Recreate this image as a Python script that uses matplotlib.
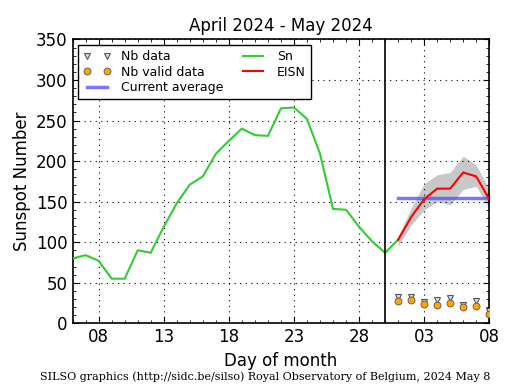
import matplotlib
matplotlib.use('Agg')
import matplotlib.pyplot as plt
import numpy as np

# days counted from 0 April (so 31 = 1 May)
sn_days = list(range(6, 32))
sn_vals = [80, 84, 77, 55, 55, 90, 87, 119, 148, 171, 181, 209, 225, 240, 232, 231,
           265, 266, 252, 209, 141, 140, 119, 101, 87, 103]

eisn_days = list(range(31, 39))
eisn_vals = [103, 131, 153, 166, 166, 186, 181, 153]
eisn_hi = [107, 142, 172, 183, 186, 206, 195, 165]
eisn_lo = [95, 121, 140, 150, 146, 165, 169, 142]
nb_data = [32, 32, 26, 29, 31, 23, 27, 15]
nb_valid = [27, 29, 24, 23, 25, 20, 21.5, 12]
current_avg = 155

tick_pos = [8, 13, 18, 23, 28, 33, 38]
tick_lbl = ['08', '13', '18', '23', '28', '03', '08']

fig = plt.figure(figsize=(5.15, 3.9), dpi=100)
ax = fig.add_axes([0.141, 0.171, 0.809, 0.728])

ax.fill_between(eisn_days, eisn_lo, eisn_hi, color='#c8c8c8', lw=0, zorder=1)
ax.plot(sn_days, sn_vals, color='#33cc33', lw=1.5, label='Sn', zorder=3)
ax.plot(eisn_days, eisn_vals, color='red', lw=1.5, label='EISN', zorder=4)
ax.plot([eisn_days[0], eisn_days[-1]], [current_avg, current_avg], color='#5555ff',
        lw=2.5, alpha=0.8, label='Current average', zorder=2)
ax.plot(eisn_days, nb_data, 'v', ms=4.5, mfc='#dddddd', mec='#555555', mew=0.8,
        ls='none', label='Nb data', zorder=5)
ax.plot(eisn_days, nb_valid, 'o', ms=5, mfc='orange', mec='#555555', mew=0.6,
        ls='none', label='Nb valid data', zorder=6)
ax.axvline(30, color='black', lw=1.2, zorder=7)

ax.set_xlim(6, 38)
ax.set_ylim(0, 350)
ax.set_xticks(tick_pos)
ax.set_xticklabels(tick_lbl)
ax.set_xticks(np.arange(6, 39, 1), minor=True)
ax.set_yticks(np.arange(0, 351, 50))
ax.set_yticks(np.arange(0, 351, 10), minor=True)
ax.tick_params(which='both', direction='in', top=True, right=True, labelsize=12)
ax.tick_params(which='major', length=4.5, width=0.8)
ax.tick_params(which='minor', length=2, width=0.6)
ax.grid(which='major', color='black', ls=(0, (1, 4)), lw=0.8)
for s in ax.spines.values():
    s.set_linewidth(1.2)

ax.set_title('April 2024 - May 2024', fontsize=12)
ax.set_xlabel('Day of month', fontsize=12)
ax.set_ylabel('Sunspot Number', fontsize=12)

h, l = ax.get_legend_handles_labels()
order = [l.index(n) for n in ['Nb data', 'Nb valid data', 'Current average', 'Sn', 'EISN']]
leg = ax.legend([h[i] for i in order], [l[i] for i in order], loc='upper left', ncol=2,
                numpoints=2, fontsize=9, fancybox=False, framealpha=1,
                edgecolor='black', borderaxespad=0.45, labelspacing=0.2,
                handlelength=2.2, columnspacing=1.3)
leg.get_frame().set_linewidth(1.0)

fig.text(0.515, 0.02, 'SILSO graphics (http://sidc.be/silso) Royal Observatory of Belgium, 2024 May 8',
         ha='center', va='bottom', fontsize=8, family='DejaVu Serif')

fig.savefig('out.png', dpi=100)
